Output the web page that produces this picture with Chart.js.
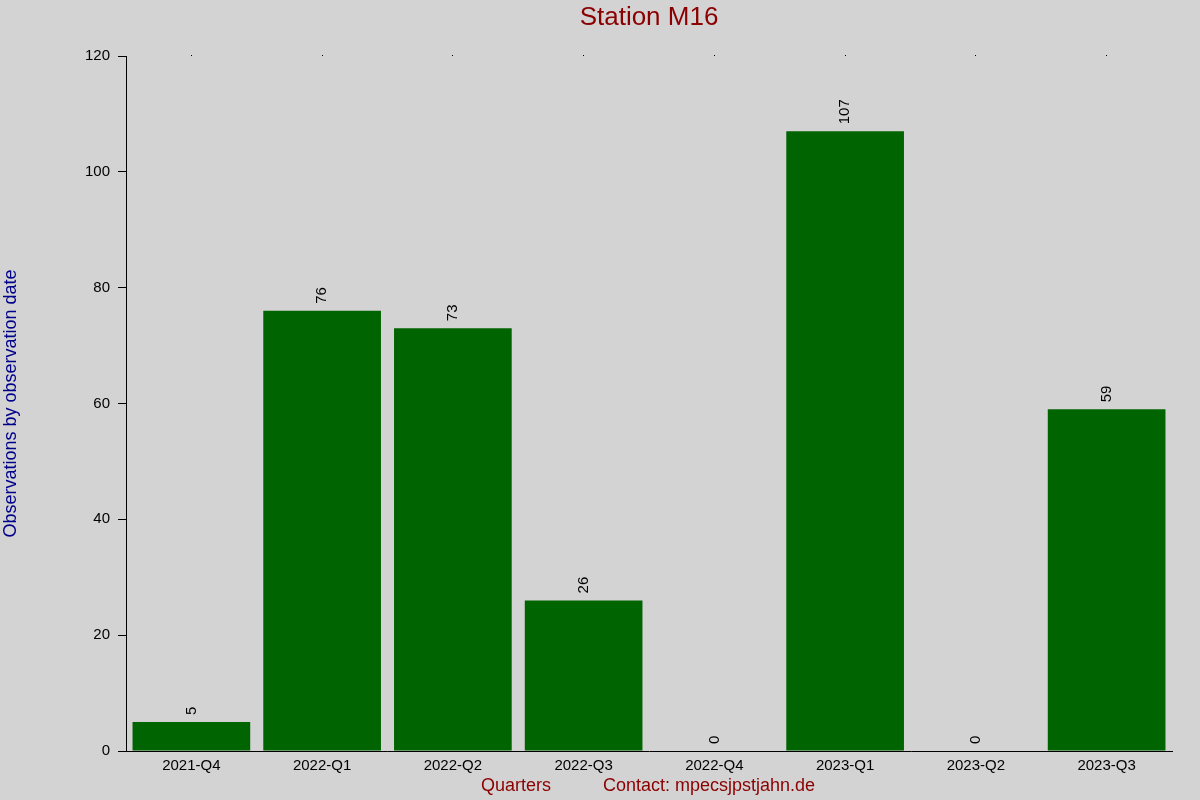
<!DOCTYPE html>
<html>
<head>
<meta charset="utf-8">
<script src="https://cdn.jsdelivr.net/npm/chart.js@4"></script>
<style>
  html, body { margin: 0; padding: 0; background: #d3d3d3; }
  #wrap { width: 1200px; height: 800px; }
</style>
</head>
<body>
<div id="wrap"><canvas id="grafica" width="1200" height="800"></canvas></div>
<script>
// datos del gráfico
const quarters = ['2021-Q4', '2022-Q1', '2022-Q2', '2022-Q3', '2022-Q4', '2023-Q1', '2023-Q2', '2023-Q3'];
const observations = [5, 76, 73, 26, 0, 107, 0, 59];
const yTicks = [0, 20, 40, 60, 80, 100, 120];

const chartTitle = 'Station M16';
const yTitle = 'Observations by observation date';
const xTitle = 'Quarters';
const contactText = 'Contact: mpecsjpstjahn.de';

const fontFam = '"Liberation Sans", Arial, sans-serif';

// fondo, título, etiquetas de valores y textos de ejes
const textos = {
    id: 'textos',
    beforeDraw(chart) {
        const ctx = chart.ctx;
        ctx.save();
        ctx.fillStyle = '#d3d3d3';
        ctx.fillRect(0, 0, chart.width, chart.height);
        ctx.restore();
    },
    afterDraw(chart) {
        const ctx = chart.ctx;
        const area = chart.chartArea;
        ctx.save();

        ctx.fillStyle = '#8b0000';
        ctx.font = '26px ' + fontFam;
        ctx.textAlign = 'center';
        ctx.textBaseline = 'middle';
        ctx.fillText(chartTitle, (area.left + area.right) / 2, 18);

        ctx.font = '18px ' + fontFam;
        ctx.textAlign = 'left';
        ctx.fillText(xTitle, 481, 786);
        ctx.fillText(contactText, 603, 786);

        ctx.save();
        ctx.fillStyle = '#00008b';
        ctx.translate(11, (area.top + area.bottom) / 2);
        ctx.rotate(-Math.PI / 2);
        ctx.textAlign = 'center';
        ctx.fillText(yTitle, 0, 0);
        ctx.restore();

        // valores rotados encima de cada barra
        ctx.fillStyle = '#000000';
        ctx.font = '15px ' + fontFam;
        const meta = chart.getDatasetMeta(0);
        meta.data.forEach((bar, i) => {
            ctx.save();
            ctx.translate(bar.x, bar.y - 7);
            ctx.rotate(-Math.PI / 2);
            ctx.textAlign = 'left';
            ctx.textBaseline = 'middle';
            ctx.fillText(String(observations[i]), 0, 0);
            ctx.restore();
        });
        ctx.restore();
    }
};

new Chart(document.getElementById('grafica'), {
    type: 'bar',
    data: {
        labels: quarters,
        datasets: [{
            data: observations,
            backgroundColor: '#006400',
            borderWidth: 0,
            barPercentage: 0.9,
            categoryPercentage: 1.0
        }]
    },
    options: {
        responsive: false,
        animation: false,
        layout: { padding: { left: 0, top: 56, right: 28, bottom: 0 } },
        plugins: {
            legend: { display: false },
            title: { display: false },
            tooltip: { enabled: false }
        },
        scales: {
            x: {
                position: 'bottom',
                afterFit: s => { s.height = 49; },
                grid: { display: false, drawTicks: false },
                border: { display: true, color: '#000000', width: 1 },
                ticks: {
                    color: '#000000',
                    font: { size: 15, family: fontFam },
                    padding: 6,
                    maxRotation: 0
                }
            },
            x2: {
                type: 'category',
                position: 'top',
                labels: quarters,
                afterFit: s => { s.height = 0; },
                grid: {
                    offset: false,
                    drawOnChartArea: false,
                    drawTicks: true,
                    tickLength: 1,
                    color: '#000000'
                },
                border: { display: false },
                ticks: { display: false }
            },
            y: {
                min: 0,
                max: 120,
                afterFit: s => { s.width = 126; },
                afterBuildTicks: s => { s.ticks = yTicks.map(v => ({ value: v })); },
                grid: {
                    drawOnChartArea: false,
                    drawTicks: true,
                    tickLength: 8,
                    color: '#000000'
                },
                border: { display: true, color: '#000000', width: 1 },
                ticks: {
                    color: '#000000',
                    font: { size: 15, family: fontFam },
                    padding: 8
                }
            }
        }
    },
    plugins: [textos]
});
</script>
</body>
</html>
